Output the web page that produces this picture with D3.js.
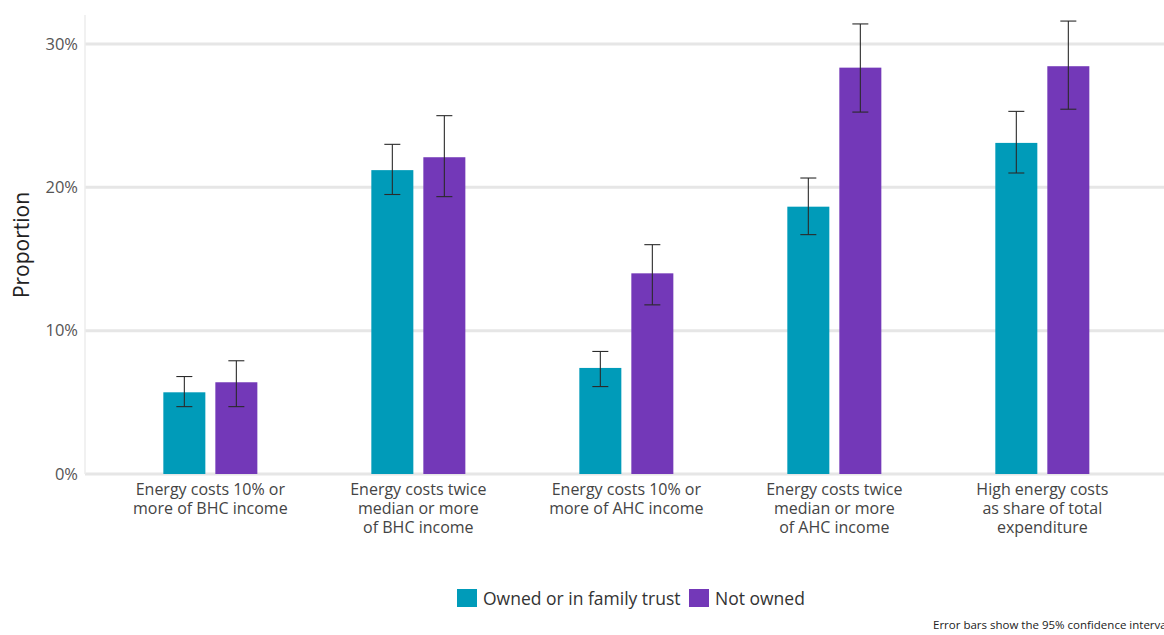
<!DOCTYPE html>
<html>
<head>
<meta charset="utf-8">
<script src="https://cdn.jsdelivr.net/npm/d3@7"></script>
<style>
  html, body { margin: 0; padding: 0; background: #fff; }
  svg { display: block; font-family: "Open Sans", "Noto Sans", sans-serif; }
</style>
</head>
<body>
<svg id="chart" width="1164" height="635"></svg>
<script>
// Energy hardship measures by tenure
const categories = [
  ["Energy costs 10% or", "more of BHC income"],
  ["Energy costs twice", "median or more", "of BHC income"],
  ["Energy costs 10% or", "more of AHC income"],
  ["Energy costs twice", "median or more", "of AHC income"],
  ["High energy costs", "as share of total", "expenditure"]
];
const seriesNames = ["Owned or in family trust", "Not owned"];
const seriesColors = ["#009bb9", "#7338b8"];

// Proportions (%) and 95% confidence bounds
const owned      = [5.7, 21.2, 7.4, 18.65, 23.1];
const ownedLow   = [4.7, 19.5, 6.1, 16.7, 21.0];
const ownedHigh  = [6.8, 23.0, 8.55, 20.65, 25.3];
const notOwned     = [6.4, 22.1, 14.0, 28.35, 28.45];
const notOwnedLow  = [4.7, 19.35, 11.8, 25.25, 25.45];
const notOwnedHigh = [7.9, 25.0, 16.0, 31.4, 31.6];

const yTicks = [0, 10, 20, 30];

const svg = d3.select("#chart");
const plotLeft = 85, plotRight = 1164, plotTop = 15, plotBottom = 474;

const y = d3.scaleLinear().domain([0, 30]).range([plotBottom, 44]);

const groupIdx = categories.map((_, i) => i);
const x0 = d3.scaleBand().domain(groupIdx).range([plotLeft, plotRight])
  .paddingInner(0.548).paddingOuter(0.3678).align(0.512);
const x1 = d3.scaleBand().domain([0, 1]).range([0, x0.bandwidth()])
  .paddingInner(0.1923).paddingOuter(0);

// gridlines
svg.append("g").selectAll("line").data(yTicks).join("line")
  .attr("x1", plotLeft).attr("x2", plotRight)
  .attr("y1", d => y(d)).attr("y2", d => y(d))
  .attr("stroke", "#e6e6e6").attr("stroke-width", 3);

// vertical axis line
svg.append("line")
  .attr("x1", plotLeft).attr("x2", plotLeft).attr("y1", plotTop).attr("y2", plotBottom)
  .attr("stroke", "#ececec").attr("stroke-width", 1.5);

// y axis tick labels
const yAxis = d3.axisLeft(y).tickValues(yTicks).tickFormat(d => d + "%").tickSize(0).tickPadding(7);
const gy = svg.append("g").attr("transform", `translate(${plotLeft},0)`).call(yAxis);
gy.select(".domain").remove();
gy.selectAll("text").attr("font-size", 16.5).attr("fill", "#555")
  .attr("font-family", "'Open Sans', sans-serif");

// y axis title
svg.append("text")
  .attr("transform", `translate(29,245) rotate(-90)`)
  .attr("text-anchor", "middle")
  .attr("font-size", 21).attr("fill", "#222")
  .text("Proportion");

// bars
const rows = groupIdx.map(i => [
  { g: i, s: 0, v: owned[i], lo: ownedLow[i], hi: ownedHigh[i] },
  { g: i, s: 1, v: notOwned[i], lo: notOwnedLow[i], hi: notOwnedHigh[i] }
]).flat();

svg.append("g").selectAll("rect").data(rows).join("rect")
  .attr("x", d => x0(d.g) + x1(d.s))
  .attr("width", x1.bandwidth())
  .attr("y", d => y(d.v))
  .attr("height", d => y(0) - y(d.v))
  .attr("fill", d => seriesColors[d.s]);

// error bars
const capHalf = 8;
const eb = svg.append("g").attr("stroke", "#2a2a2a").attr("stroke-width", 1.1);
rows.forEach(d => {
  const cx = x0(d.g) + x1(d.s) + x1.bandwidth() / 2;
  eb.append("line").attr("x1", cx).attr("x2", cx).attr("y1", y(d.hi)).attr("y2", y(d.lo));
  eb.append("line").attr("x1", cx - capHalf).attr("x2", cx + capHalf).attr("y1", y(d.hi)).attr("y2", y(d.hi));
  eb.append("line").attr("x1", cx - capHalf).attr("x2", cx + capHalf).attr("y1", y(d.lo)).attr("y2", y(d.lo));
});

// category labels
const lab = svg.append("g");
categories.forEach((lines, i) => {
  const cx = x0(i) + x0.bandwidth() / 2;
  const t = lab.append("text").attr("text-anchor", "middle")
    .attr("font-size", 16).attr("fill", "#444");
  lines.forEach((ln, k) => {
    t.append("tspan").attr("x", cx).attr("y", 495 + k * 19).text(ln);
  });
});

// legend
const legend = svg.append("g");
const legendX = [457, 689];
seriesNames.forEach((name, i) => {
  legend.append("rect").attr("x", legendX[i]).attr("y", 589)
    .attr("width", 20).attr("height", 18).attr("fill", seriesColors[i]);
  legend.append("text").attr("x", legendX[i] + 26).attr("y", 605)
    .attr("font-size", 17.5).attr("fill", "#333").text(name);
});

// footnote
svg.append("text").attr("x", 933).attr("y", 629)
  .attr("font-size", 11.5).attr("fill", "#222")
  .text("Error bars show the 95% confidence interval");
</script>
</body>
</html>
